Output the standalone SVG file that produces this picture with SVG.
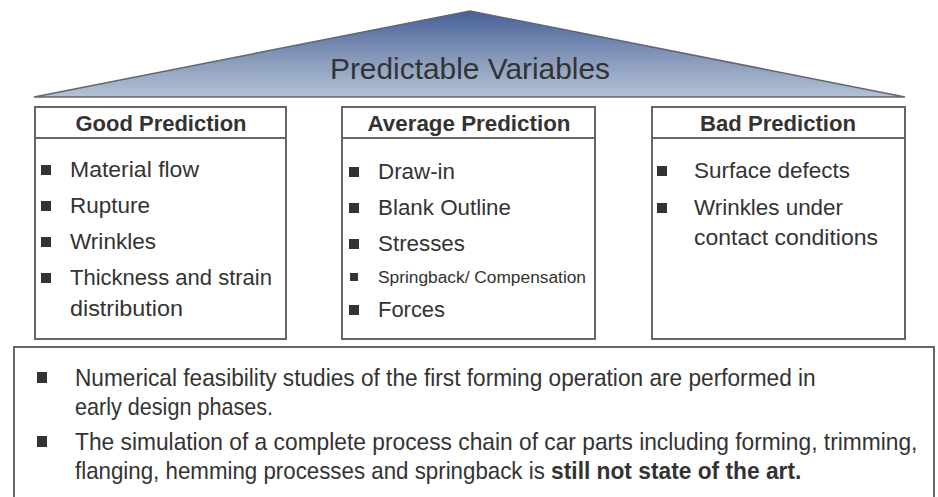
<svg xmlns="http://www.w3.org/2000/svg" width="938" height="497" viewBox="0 0 938 497">
<defs>
<linearGradient id="roof" x1="0" y1="0" x2="0" y2="1">
<stop offset="0" stop-color="#465f96"/>
<stop offset="0.5" stop-color="#8294b8"/>
<stop offset="1" stop-color="#b3c2d6"/>
</linearGradient>
<style>
text{font-family:"Liberation Sans",Arial,sans-serif;fill:#333;}
.box{fill:#fff;stroke:#666;stroke-width:2;}
.hd{font-size:22px;font-weight:bold;text-anchor:middle;}
.it{font-size:22px;}
.sm{font-size:16px;}
.bt{font-size:24px;}
.b{fill:#333;}
</style>
</defs>
<rect width="938" height="497" fill="#fff"/>
<g id="roof-node">
<polygon points="470,11 905,97 34,97" fill="url(#roof)" stroke="#666" stroke-width="1.5"/>
<text x="470" y="79" font-size="29" text-anchor="middle" textLength="280" lengthAdjust="spacingAndGlyphs">Predictable Variables</text>
</g>
<g id="good">
<rect class="box" x="35" y="107" width="251" height="232"/>
<line x1="35" y1="138" x2="286" y2="138" stroke="#666" stroke-width="2"/>
<text class="hd" x="161" y="131" textLength="171" lengthAdjust="spacingAndGlyphs">Good Prediction</text>
<rect class="b" x="41" y="165" width="10" height="10"/>
<text class="it" x="70" y="177" textLength="129" lengthAdjust="spacingAndGlyphs">Material flow</text>
<rect class="b" x="41" y="201" width="10" height="10"/>
<text class="it" x="70" y="213" textLength="80" lengthAdjust="spacingAndGlyphs">Rupture</text>
<rect class="b" x="41" y="237" width="10" height="10"/>
<text class="it" x="70" y="249" textLength="86" lengthAdjust="spacingAndGlyphs">Wrinkles</text>
<rect class="b" x="41" y="273" width="10" height="10"/>
<text class="it" x="70" y="285" textLength="202" lengthAdjust="spacingAndGlyphs">Thickness and strain</text>
<text class="it" x="70" y="316" textLength="113" lengthAdjust="spacingAndGlyphs">distribution</text>
</g>
<g id="average">
<rect class="box" x="342" y="107" width="253" height="232"/>
<line x1="342" y1="138" x2="595" y2="138" stroke="#666" stroke-width="2"/>
<text class="hd" x="469" y="131" textLength="203" lengthAdjust="spacingAndGlyphs">Average Prediction</text>
<rect class="b" x="349" y="167" width="10" height="10"/>
<text class="it" x="378" y="179" textLength="77" lengthAdjust="spacingAndGlyphs">Draw-in</text>
<rect class="b" x="349" y="203" width="10" height="10"/>
<text class="it" x="378" y="215" textLength="133" lengthAdjust="spacingAndGlyphs">Blank Outline</text>
<rect class="b" x="349" y="239" width="10" height="10"/>
<text class="it" x="378" y="251" textLength="87" lengthAdjust="spacingAndGlyphs">Stresses</text>
<rect class="b" x="350" y="273" width="8" height="8"/>
<text class="sm" x="378" y="283" textLength="208" lengthAdjust="spacingAndGlyphs">Springback/ Compensation</text>
<rect class="b" x="349" y="305" width="10" height="10"/>
<text class="it" x="378" y="317" textLength="67" lengthAdjust="spacingAndGlyphs">Forces</text>
</g>
<g id="bad">
<rect class="box" x="652" y="107" width="253" height="232"/>
<line x1="652" y1="138" x2="905" y2="138" stroke="#666" stroke-width="2"/>
<text class="hd" x="778" y="131" textLength="156" lengthAdjust="spacingAndGlyphs">Bad Prediction</text>
<rect class="b" x="657" y="166" width="10" height="10"/>
<text class="it" x="694" y="178" textLength="156" lengthAdjust="spacingAndGlyphs">Surface defects</text>
<rect class="b" x="657" y="203" width="10" height="10"/>
<text class="it" x="694" y="215" textLength="149" lengthAdjust="spacingAndGlyphs">Wrinkles under</text>
<text class="it" x="694" y="245" textLength="184" lengthAdjust="spacingAndGlyphs">contact conditions</text>
</g>
<g id="notes">
<rect class="box" x="14" y="347" width="920" height="170"/>
<rect class="b" x="37" y="372" width="10" height="11"/>
<rect class="b" x="37" y="436" width="10" height="11"/>
<g transform="translate(75,0) scale(0.9,1)">
<text class="bt" x="0" y="386" textLength="823" lengthAdjust="spacingAndGlyphs">Numerical feasibility studies of the first forming operation are performed in</text>
<text class="bt" x="0" y="415" textLength="220" lengthAdjust="spacingAndGlyphs">early design phases.</text>
<text class="bt" x="0" y="450" textLength="936" lengthAdjust="spacingAndGlyphs">The simulation of a complete process chain of car parts including forming, trimming,</text>
<text class="bt" x="0" y="479" textLength="522" lengthAdjust="spacingAndGlyphs">flanging, hemming processes and springback is</text>
<text class="bt" x="529" y="479" font-weight="bold" textLength="278" lengthAdjust="spacingAndGlyphs">still not state of the art.</text>
</g>
</g>
</svg>
